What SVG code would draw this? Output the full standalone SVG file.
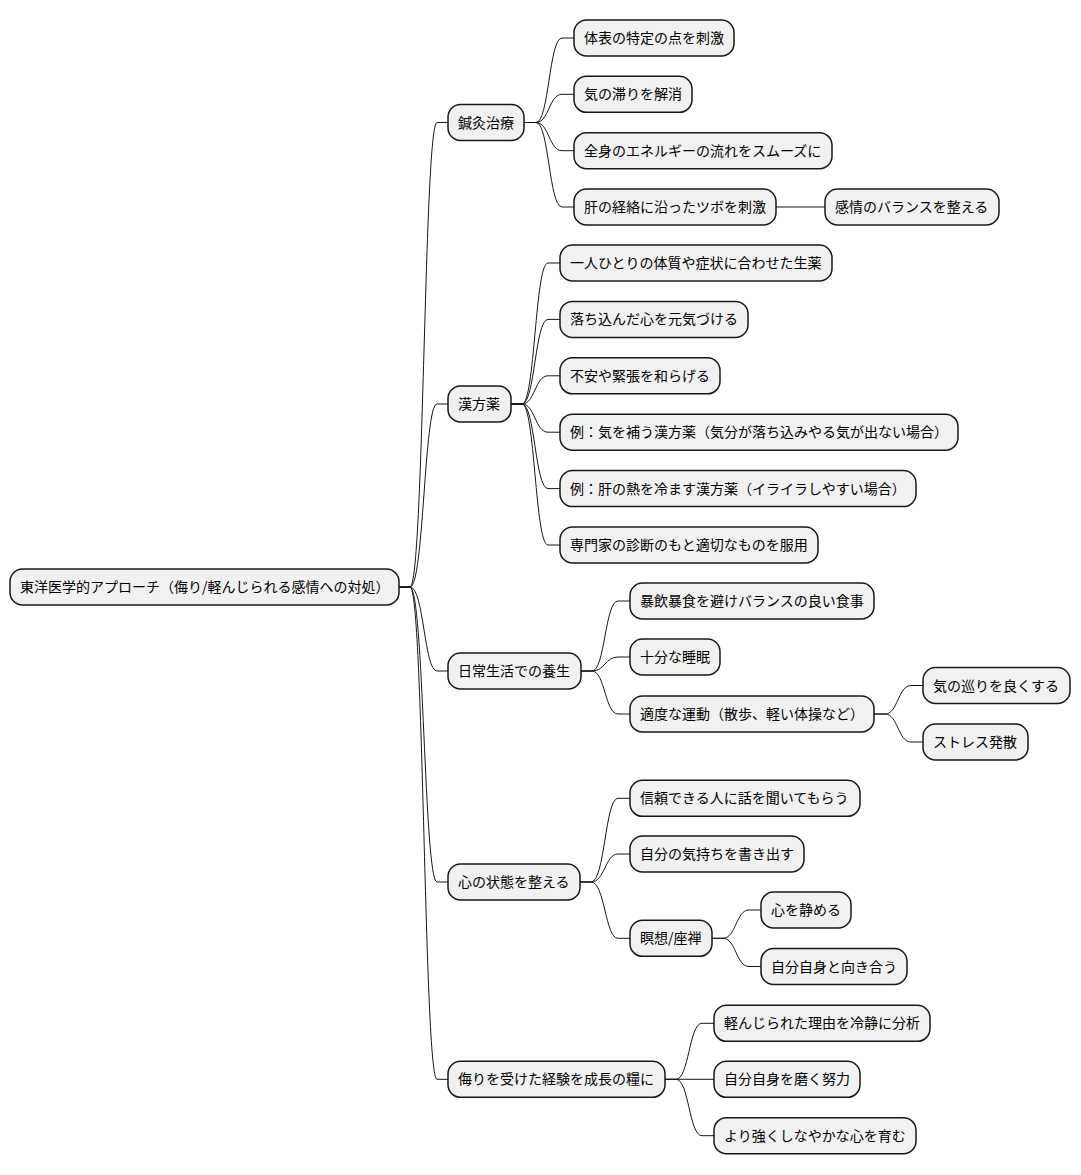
<svg xmlns="http://www.w3.org/2000/svg" width="1081" height="1175" viewBox="0 0 1081 1175">
<style>
.n rect{fill:#F1F1F1;stroke:#181818;stroke-width:1.5}
.n text{font-family:"Noto Sans CJK JP","Noto Sans",sans-serif;font-size:14px;fill:#000}
.c path{fill:none;stroke:#181818;stroke-width:1}
</style>
<rect x="0" y="0" width="1081" height="1175" fill="#FFFFFF"/>
<g id="connectors" class="c">
<path d="M399,587 H410 C424,587 424,122.5 437,122.5 H448"/>
<path d="M399,587 H410 C424,587 424,404 437,404 H448"/>
<path d="M399,587 H410 C424,587 424,671 437,671 H448"/>
<path d="M399,587 H410 C424,587 424,882 437,882 H448"/>
<path d="M399,587 H410 C424,587 424,1079.3 437,1079.3 H448"/>
<path d="M524,122.5 H536 C549,122.5 549,38 562,38 H574"/>
<path d="M524,122.5 H536 C549,122.5 549,94.3 562,94.3 H574"/>
<path d="M524,122.5 H536 C549,122.5 549,150.7 562,150.7 H574"/>
<path d="M524,122.5 H536 C549,122.5 549,207 562,207 H574"/>
<path d="M776,207 H825"/>
<path d="M511,404 H522 C535,404 535,263 548,263 H560"/>
<path d="M511,404 H522 C535,404 535,319.4 548,319.4 H560"/>
<path d="M511,404 H522 C535,404 535,375.8 548,375.8 H560"/>
<path d="M511,404 H522 C535,404 535,432.2 548,432.2 H560"/>
<path d="M511,404 H522 C535,404 535,488.6 548,488.6 H560"/>
<path d="M511,404 H522 C535,404 535,545 548,545 H560"/>
<path d="M581,671 H592 C605,671 605,601 618,601 H630"/>
<path d="M581,671 H592 C605,671 605,657 618,657 H630"/>
<path d="M581,671 H592 C605,671 605,714 618,714 H630"/>
<path d="M874,714 H885 C898,714 898,685.5 911,685.5 H923"/>
<path d="M874,714 H885 C898,714 898,742 911,742 H923"/>
<path d="M580,882 H591 C605,882 605,798.3 618,798.3 H630"/>
<path d="M580,882 H591 C605,882 605,854 618,854 H630"/>
<path d="M580,882 H591 C605,882 605,938.3 618,938.3 H630"/>
<path d="M712,938.3 H723 C736,938.3 736,910 749,910 H761"/>
<path d="M712,938.3 H723 C736,938.3 736,966.5 749,966.5 H761"/>
<path d="M665,1079.3 H676 C689,1079.3 689,1023.3 702,1023.3 H714"/>
<path d="M665,1079.3 H714"/>
<path d="M665,1079.3 H676 C689,1079.3 689,1135.7 702,1135.7 H714"/>
</g>
<g id="root" class="n"><rect x="10" y="569" width="389" height="36" rx="12.5"/><text x="20" y="592">東洋医学的アプローチ（侮り/軽んじられる感情への対処）</text></g>
<g id="n1" class="n"><rect x="448" y="104.5" width="76" height="36" rx="12.5"/><text x="458" y="127.5">鍼灸治療</text></g>
<g id="n1a" class="n"><rect x="574" y="20" width="160" height="36" rx="12.5"/><text x="584" y="43">体表の特定の点を刺激</text></g>
<g id="n1b" class="n"><rect x="574" y="76.3" width="118" height="36" rx="12.5"/><text x="584" y="99.3">気の滞りを解消</text></g>
<g id="n1c" class="n"><rect x="574" y="132.7" width="258" height="36" rx="12.5"/><text x="584" y="155.7">全身のエネルギーの流れをスムーズに</text></g>
<g id="n1d" class="n"><rect x="574" y="189" width="202" height="36" rx="12.5"/><text x="584" y="212">肝の経絡に沿ったツボを刺激</text></g>
<g id="n1d1" class="n"><rect x="825" y="189" width="174" height="36" rx="12.5"/><text x="835" y="212">感情のバランスを整える</text></g>
<g id="n2" class="n"><rect x="448" y="386" width="63" height="36" rx="12.5"/><text x="458" y="409">漢方薬</text></g>
<g id="n2a" class="n"><rect x="560" y="245" width="272" height="36" rx="12.5"/><text x="570" y="268">一人ひとりの体質や症状に合わせた生薬</text></g>
<g id="n2b" class="n"><rect x="560" y="301.4" width="188" height="36" rx="12.5"/><text x="570" y="324.4">落ち込んだ心を元気づける</text></g>
<g id="n2c" class="n"><rect x="560" y="357.8" width="160" height="36" rx="12.5"/><text x="570" y="380.8">不安や緊張を和らげる</text></g>
<g id="n2d" class="n"><rect x="560" y="414.2" width="398" height="36" rx="12.5"/><text x="570" y="437.2">例：気を補う漢方薬（気分が落ち込みやる気が出ない場合）</text></g>
<g id="n2e" class="n"><rect x="560" y="470.6" width="356" height="36" rx="12.5"/><text x="570" y="493.6">例：肝の熱を冷ます漢方薬（イライラしやすい場合）</text></g>
<g id="n2f" class="n"><rect x="560" y="527" width="258" height="36" rx="12.5"/><text x="570" y="550">専門家の診断のもと適切なものを服用</text></g>
<g id="n3" class="n"><rect x="448" y="653" width="133" height="36" rx="12.5"/><text x="458" y="676">日常生活での養生</text></g>
<g id="n3a" class="n"><rect x="630" y="583" width="244" height="36" rx="12.5"/><text x="640" y="606">暴飲暴食を避けバランスの良い食事</text></g>
<g id="n3b" class="n"><rect x="630" y="639" width="90" height="36" rx="12.5"/><text x="640" y="662">十分な睡眠</text></g>
<g id="n3c" class="n"><rect x="630" y="696" width="244" height="36" rx="12.5"/><text x="640" y="719">適度な運動（散歩、軽い体操など）</text></g>
<g id="n3c1" class="n"><rect x="923" y="667.5" width="147" height="36" rx="12.5"/><text x="933" y="690.5">気の巡りを良くする</text></g>
<g id="n3c2" class="n"><rect x="923" y="724" width="105" height="36" rx="12.5"/><text x="933" y="747">ストレス発散</text></g>
<g id="n4" class="n"><rect x="448" y="864" width="132" height="36" rx="12.5"/><text x="458" y="887">心の状態を整える</text></g>
<g id="n4a" class="n"><rect x="630" y="780.3" width="230" height="36" rx="12.5"/><text x="640" y="803.3">信頼できる人に話を聞いてもらう</text></g>
<g id="n4b" class="n"><rect x="630" y="836" width="174" height="36" rx="12.5"/><text x="640" y="859">自分の気持ちを書き出す</text></g>
<g id="n4c" class="n"><rect x="630" y="920.3" width="82" height="36" rx="12.5"/><text x="640" y="943.3">瞑想/座禅</text></g>
<g id="n4c1" class="n"><rect x="761" y="892" width="90" height="36" rx="12.5"/><text x="771" y="915">心を静める</text></g>
<g id="n4c2" class="n"><rect x="761" y="948.5" width="146" height="36" rx="12.5"/><text x="771" y="971.5">自分自身と向き合う</text></g>
<g id="n5" class="n"><rect x="448" y="1061.3" width="217" height="36" rx="12.5"/><text x="458" y="1084.3">侮りを受けた経験を成長の糧に</text></g>
<g id="n5a" class="n"><rect x="714" y="1005.3" width="216" height="36" rx="12.5"/><text x="724" y="1028.3">軽んじられた理由を冷静に分析</text></g>
<g id="n5b" class="n"><rect x="714" y="1061.3" width="146" height="36" rx="12.5"/><text x="724" y="1084.3">自分自身を磨く努力</text></g>
<g id="n5c" class="n"><rect x="714" y="1117.7" width="202" height="36" rx="12.5"/><text x="724" y="1140.7">より強くしなやかな心を育む</text></g>
</svg>
